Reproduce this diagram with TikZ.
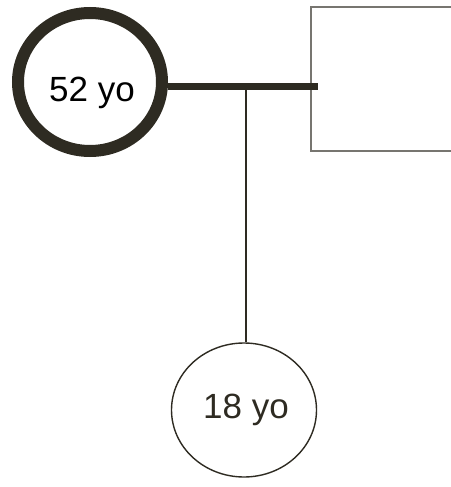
\documentclass[tikz,border=0pt]{standalone}
\usepackage{fontspec}
\setmainfont{Liberation Sans}
\usetikzlibrary{shapes.geometric}
\definecolor{dk}{HTML}{2E2B22}
\definecolor{gr}{HTML}{777570}
\tikzset{
  person/.style={ellipse, draw=dk, fill=white, inner sep=0pt},
  agetext/.style={font=\fontsize{35}{35}\selectfont, inner sep=0pt, anchor=base},
}
\begin{document}
\begin{tikzpicture}[x=1pt,y=-1pt]
\useasboundingbox (0,0) rectangle (450,487);
\coordinate (hl) at (168,86);
\coordinate (hr) at (318,86);
\coordinate (mid) at (246,86);
\node[draw=gr, line width=1.6pt, minimum width=160pt, minimum height=144pt, anchor=north west, inner sep=0pt] (box) at (310,6) {};
\draw[dk, line width=7pt] (hl) -- (hr);
\node[person, line width=1.4pt, minimum width=145pt, minimum height=134pt] (child) at (244,410) {};
\draw[dk, line width=1.6pt] (mid) -- (mid |- child.north);
\node[person, line width=12pt, minimum width=144pt, minimum height=138pt] (mom) at (90,82) {};
\node[agetext] (momt) at (92,101) {52 yo};
\node[agetext, text=dk] (childt) at (246,418) {18 yo};
\end{tikzpicture}
\end{document}
